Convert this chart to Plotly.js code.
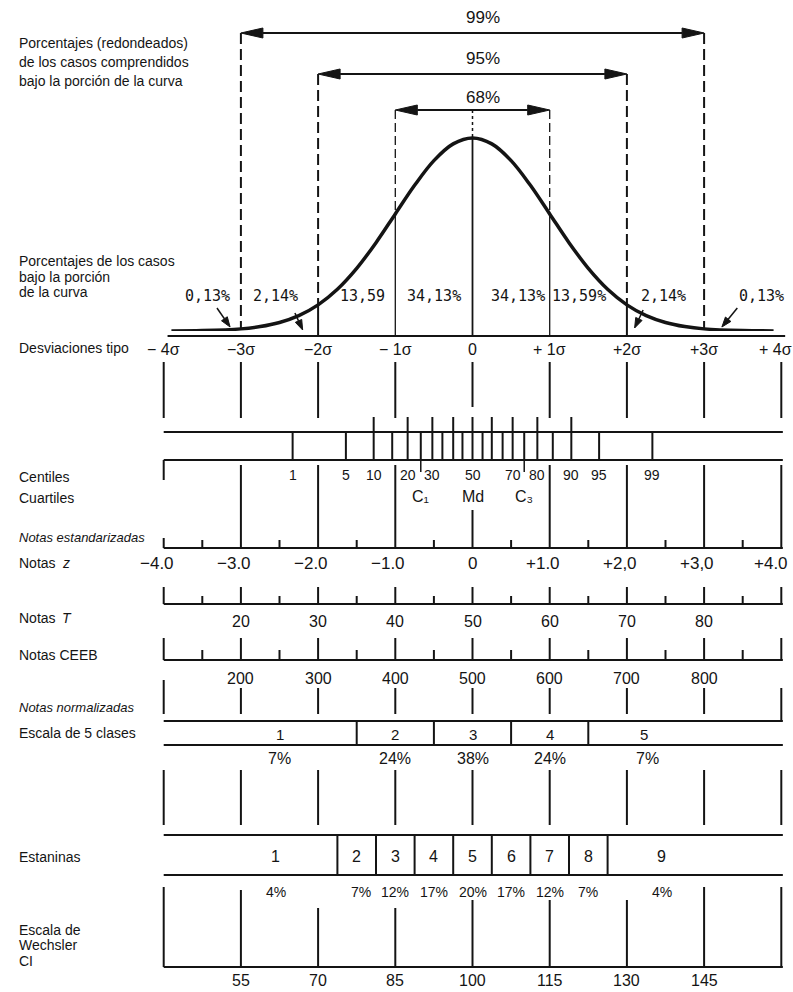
<!DOCTYPE html>
<html><head><meta charset="utf-8">
<script src="https://cdn.plot.ly/plotly-3.0.1.min.js"></script>
<style>html,body{margin:0;padding:0;background:#fff}#chart{width:793px;height:992px}</style>
</head><body><div id="chart"></div>
<script>
// ================= DATA =================
const sigmaTicks  = [-4, -3, -2, -1, 0, 1, 2, 3, 4];
const sigmaLabels = ['− 4σ', '−3σ', '−2σ', '− 1σ', '0', '+ 1σ', '+2σ', '+3σ', '+ 4σ'];

const coverageSigma  = [3, 2, 1];
const coverageLabels = ['99%', '95%', '68%'];

// normal curve heights (density)
const curveX = [-3.9, -3.5, -3, -2.75, -2.5, -2.25, -2, -1.75, -1.5, -1.25, -1, -0.75, -0.5, -0.25, 0,
                 0.25, 0.5, 0.75, 1, 1.25, 1.5, 1.75, 2, 2.25, 2.5, 2.75, 3, 3.5, 3.9];
const curveY = [0.0002, 0.0009, 0.0044, 0.0091, 0.0175, 0.0317, 0.054, 0.0863, 0.1295, 0.1826, 0.242, 0.3011, 0.3521, 0.3867, 0.3989,
                0.3867, 0.3521, 0.3011, 0.242, 0.1826, 0.1295, 0.0863, 0.054, 0.0317, 0.0175, 0.0091, 0.0044, 0.0009, 0.0002];

const areaPct       = ['0,13%', '2,14%', '13,59', '34,13%', '34,13%', '13,59%', '2,14%', '0,13%'];
const areaIntervals = [-4, -3, -2, -1, 0, 1, 2, 3];   // left edge of each sigma interval

const centiles = [1, 5, 10, 15, 20, 25, 30, 35, 40, 45, 50, 55, 60, 65, 70, 75, 80, 85, 90, 95, 99];
const centileZ = [-2.33, -1.64, -1.28, -1.04, -0.84, -0.67, -0.52, -0.39, -0.25, -0.13, 0,
                   0.13, 0.25, 0.39, 0.52, 0.67, 0.84, 1.04, 1.28, 1.64, 2.33];
const centileLabelled = [1, 5, 10, 20, 30, 50, 70, 80, 90, 95, 99];
const centileLong     = [10, 20, 30, 40, 50, 60, 70, 80, 90];

const quartileCentiles = [25, 50, 75];
const quartileLabels   = ['C₁', 'Md', 'C₃'];

const zScores = [-4, -3, -2, -1, 0, 1, 2, 3, 4];
const zLabels = ['−4.0', '−3.0', '−2.0', '−1.0', '0', '+1.0', '+2,0', '+3,0', '+4.0'];

const tScores    = [20, 30, 40, 50, 60, 70, 80];
const ceebScores = [200, 300, 400, 500, 600, 700, 800];

const fiveBounds = [-1.5, -0.5, 0.5, 1.5];
const fiveLabels = ['1', '2', '3', '4', '5'];
const fivePct    = ['7%', '24%', '38%', '24%', '7%'];

const stanineBounds = [-1.75, -1.25, -0.75, -0.25, 0.25, 0.75, 1.25, 1.75];
const stanineLabels = ['1', '2', '3', '4', '5', '6', '7', '8', '9'];
const staninePct    = ['4%', '7%', '12%', '17%', '20%', '17%', '12%', '7%', '4%'];

const wechslerScores = [55, 70, 85, 100, 115, 130, 145];

// ================= LAYOUT HELPERS =================
const INK = '#141414';
const FONT = 'Liberation Sans, Arial, sans-serif';
const W = 793, H = 992;
const X0PX = 472.5, PXS = 77.2;                // sigma axis scale
const XR = [-X0PX / PXS, (W - X0PX) / PXS];
const BASE = 331;                               // curve baseline row
const Y2MAX = 0.6841;
const curvePx = s => BASE - curveY[curveX.indexOf(s)] / Y2MAX * BASE;
const RIGHT = 4.02;
const toPx = s => X0PX + s * PXS, fromPx = p => (p - X0PX) / PXS;

const shapes = [], ann = [];
function L(x0, x1, y0, y1, w, dash) {
  shapes.push({type: 'line', xref: 'x', yref: 'y', x0, x1, y0, y1,
               line: {color: INK, width: w, dash: dash || 'solid'}});
}
function T(x, y, text, size, o) {
  o = o || {};
  ann.push(Object.assign({x, y, xref: 'x', yref: 'y', text, showarrow: false,
    font: {family: o.family || FONT, size, color: INK}, xanchor: 'center', yanchor: 'middle'}, o.extra || {}));
}
function leftLabel(y, text, size, italic, xpx) {
  ann.push({x: (xpx || 17) / W, y, xref: 'paper', yref: 'y', text, showarrow: false, xanchor: 'left', yanchor: 'middle',
            font: {family: FONT, size: size || 14, color: INK, style: italic ? 'italic' : 'normal'}});
}
// filled arrow head at (xt,yt) pointing away from (xa,ya)
function head(xt, yt, xa, ya, len, hw) {
  const pxT = toPx(xt), pxA = toPx(xa);
  let dx = pxT - pxA, dy = yt - ya; const n = Math.hypot(dx, dy); dx /= n; dy /= n;
  const bx = pxT - dx * len, by = yt - dy * len;
  const p1 = [bx - dy * hw, by + dx * hw], p2 = [bx + dy * hw, by - dx * hw];
  shapes.push({type: 'path', xref: 'x', yref: 'y', fillcolor: INK, line: {color: INK, width: 1},
    path: `M ${xt} ${yt} L ${fromPx(p1[0])} ${p1[1]} L ${fromPx(p2[0])} ${p2[1]} Z`});
  return [fromPx(bx), by];
}
function arrow(xt, yt, xa, ya, w, len, hw) {
  const b = head(xt, yt, xa, ya, len, hw);
  L(xa, b[0], ya, b[1], w);
}

// ---------- top coverage arrows ----------
const covRows = [33, 74, 110], covLabelRows = [17, 58, 97];
coverageSigma.forEach((k, i) => {
  const y = covRows[i];
  const bl = head(-k, y, 0, y, 22, 5), br = head(k, y, 0, y, 22, 5);
  L(bl[0], br[0], y, y, 2);
  T(0.13, covLabelRows[i], coverageLabels[i], 17);
});
// vertical guides
[-3, 3].forEach(s => L(s, s, 33, 329, 2, '11px,5px'));
[-2, 2].forEach(s => { L(s, s, 74, curvePx(s), 2, '11px,5px'); L(s, s, curvePx(s), 336, 2); });
[-1, 1].forEach(s => { L(s, s, 110, curvePx(s), 1.3, '9px,4px'); L(s, s, curvePx(s), 336, 1.3); });
L(0, 0, 110, curvePx(0), 1.5, '3px,3px');
L(0, 0, curvePx(0), 336, 1.8);
// sigma baseline
L(-3.95, 4.05, 336, 336, 2.2);

// area percentages
const areaShift = [0.07, -0.05, 0.08, 0, 0.09, -0.12, -0.02, 0.24];
areaIntervals.forEach((a, i) => T(a + 0.5 + areaShift[i], 296, areaPct[i], 15, {family: 'DejaVu Sans Mono, monospace'}));
arrow(-3.14, 327, -3.31, 308, 1.5, 10, 3.5);
arrow(-2.20, 330, -2.30, 313, 1.5, 10, 3.5);
arrow(2.10, 328, 2.21, 310, 1.5, 10, 3.5);
arrow(3.23, 327, 3.43, 308, 1.5, 10, 3.5);

// ---------- desviaciones tipo ----------
sigmaTicks.forEach((s, i) => {
  T(s, 349, sigmaLabels[i], 16, {extra: {xshift: s === 4 ? -6 : 0}});
  L(s, s, 362, s === 0 ? 407 : 418, 2);
});

// ---------- centiles ----------
L(-4, RIGHT, 432, 432, 2.2);
L(-4, RIGHT, 460, 460, 2.2);
centiles.forEach((c, i) => L(centileZ[i], centileZ[i], 432, 460, 2));
centileLong.forEach(c => { const z = centileZ[centiles.indexOf(c)]; L(z, z, 417, 432, 2); });
centileLabelled.forEach(c => { const z = centileZ[centiles.indexOf(c)]; T(z, 475, String(c), 14); });
[25, 75].forEach(c => { const z = centileZ[centiles.indexOf(c)]; L(z, z, 460, 472, 1.5); });
quartileCentiles.forEach((c, i) => T(centileZ[centiles.indexOf(c)], 496, quartileLabels[i], 16));

// sigma lines between centiles and standard scores
sigmaTicks.forEach(s => {
  if (s === -4) L(s, s, 460, 480, 2);
  else if (s === 0) L(s, s, 510, 548, 2);
  else L(s, s, 465, 548, 2);
});

// ---------- standard scores axis ----------
L(-4, RIGHT, 548, 548, 2.2);
L(-4, -4, 538, 548, 2);
sigmaTicks.forEach(s => { if (s < 4) L(s + 0.5, s + 0.5, 540, 548, 2); });
zScores.forEach((z, i) => T(z, 563, zLabels[i], 17, {extra: {xshift: z === 0 ? 0 : (z === 4 ? -10 : -7)}}));

// ---------- T scores ----------
L(-4, RIGHT, 604, 604, 2.2);
sigmaTicks.forEach(s => { L(s, s, 587, 604, 2); if (s < 4) L(s + 0.5, s + 0.5, 596, 604, 2); });
tScores.forEach(t => T((t - 50) / 10, 621, String(t), 16));

// ---------- CEEB ----------
L(-4, RIGHT, 660, 660, 2.2);
sigmaTicks.forEach(s => { L(s, s, 638, 660, 2); if (s < 4) L(s + 0.5, s + 0.5, 650, 660, 2); });
ceebScores.forEach(c => T((c - 500) / 100, 678, String(c), 16));

// ---------- normalizadas / 5 classes ----------
sigmaTicks.forEach(s => L(s, s, s === -4 ? 680 : 688, s === 4 ? 721 : 714, 2));
L(-4, RIGHT, 721, 721, 2.2);
L(-4, RIGHT, 745, 745, 2.2);
fiveBounds.forEach(b => L(b, b, 721, 745, 2));
const fivePos = [-2.5, -1, 0, 1, 2.22];
fiveLabels.forEach((t, i) => T(fivePos[i], 734, t, 15));
fivePct.forEach((t, i) => T(fivePos[i] + (i === 4 ? 0.05 : 0), 758, t, 16));
sigmaTicks.forEach(s => L(s, s, 770, 825, 2));

// ---------- stanines ----------
L(-4, RIGHT, 835, 835, 2.2);
L(-4, RIGHT, 875, 875, 2.2);
stanineBounds.forEach(b => L(b, b, 835, 875, 2));
const stanPos = [-2.55, -1.5, -1, -0.5, 0, 0.5, 1, 1.5, 2.45];
stanineLabels.forEach((t, i) => T(stanPos[i], 856, t, 16));
staninePct.forEach((t, i) => T(stanPos[i] + (i === 1 ? 0.05 : 0), 892, t, 14));

// ---------- Wechsler ----------
const wTop = {'-4': 887, '-3': 890, '-2': 908, '-1': 908, '0': 900, '1': 900, '2': 900, '3': 887, '4': 887};
sigmaTicks.forEach(s => L(s, s, wTop[String(s)], 967, 2));
L(-4, RIGHT, 967, 967, 2.2);
wechslerScores.forEach(w => T((w - 100) / 15, 980, String(w), 16));

// ---------- left labels ----------
leftLabel(43, 'Porcentajes (redondeados)');
leftLabel(62, 'de los casos comprendidos');
leftLabel(81, 'bajo la porción de la curva');
leftLabel(261, 'Porcentajes de los casos');
leftLabel(277, 'bajo la porción');
leftLabel(292, 'de la curva');
leftLabel(348, 'Desviaciones tipo');
leftLabel(477, 'Centiles');
leftLabel(498, 'Cuartiles');
leftLabel(537, 'Notas estandarizadas', 13, true);
leftLabel(563, 'Notas');
leftLabel(563, 'z', 14, true, 60);
leftLabel(618, 'Notas');
leftLabel(618, 'T', 14, true, 60);
leftLabel(655, 'Notas CEEB');
leftLabel(707, 'Notas normalizadas', 13, true);
leftLabel(733, 'Escala de 5 clases');
leftLabel(857, 'Estaninas');
leftLabel(930, 'Escala de');
leftLabel(945, 'Wechsler');
leftLabel(961, 'CI');

// ================= PLOT =================
const traces = [{
  x: curveX, y: curveY, xaxis: 'x', yaxis: 'y2', type: 'scatter', mode: 'lines',
  line: {color: INK, width: 3.5, shape: 'spline', smoothing: 1}, hoverinfo: 'skip'
}];
const layout = {
  width: W, height: H, margin: {l: 0, r: 0, t: 0, b: 0},
  paper_bgcolor: '#fff', plot_bgcolor: '#fff', showlegend: false,
  xaxis: {range: XR, visible: false, fixedrange: true},
  yaxis: {range: [H, 0], visible: false, domain: [0, 1], fixedrange: true},
  yaxis2: {range: [0, Y2MAX], visible: false, domain: [(H - BASE) / H, 1], anchor: 'x', fixedrange: true},
  shapes, annotations: ann
};
Plotly.newPlot('chart', traces, layout, {staticPlot: true, displayModeBar: false});
</script></body></html>
